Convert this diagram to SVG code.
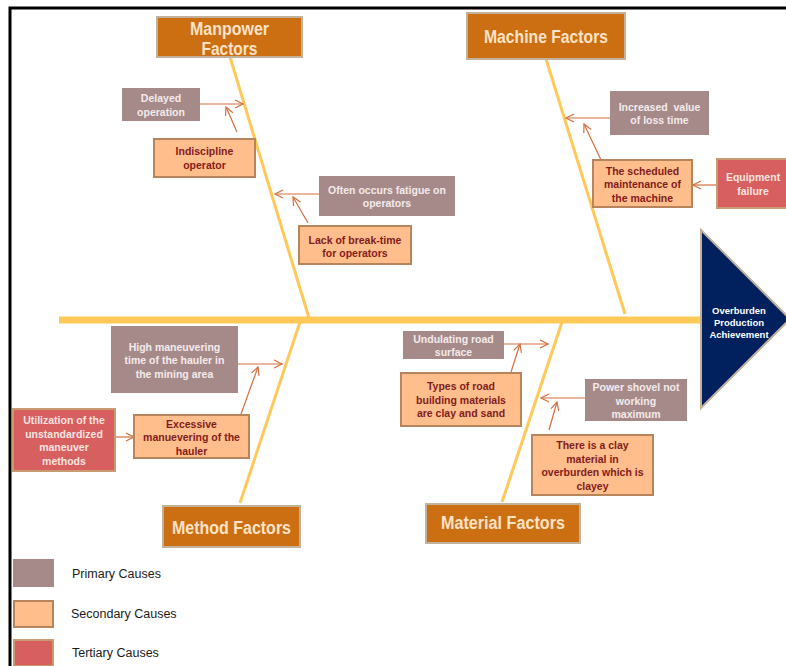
<svg xmlns="http://www.w3.org/2000/svg" width="786" height="666" viewBox="0 0 786 666">
<defs>
<marker id="ah" viewBox="0 0 10 10" refX="9" refY="5" markerWidth="10" markerHeight="10" markerUnits="userSpaceOnUse" orient="auto">
<path d="M1,1 L9,5 L1,9" fill="none" stroke="#D4703F" stroke-width="1.2"/>
</marker>
<style>
.bone{stroke:#FFC95A;stroke-width:3;fill:none}
.spine{stroke:#FFC95A;stroke-width:7;fill:none}
.arr{stroke:#D4703F;stroke-width:1.2;fill:none;marker-end:url(#ah)}
.fac rect{fill:#CC6F12;stroke:#C2B29C;stroke-width:2}
.fac text{font-family:"Liberation Sans",Arial,sans-serif;font-weight:bold;font-size:18px;fill:#FCE2C6;text-anchor:middle}
.pri rect{fill:#A68A8A}
.pri text{font-family:"Liberation Sans",Arial,sans-serif;font-weight:bold;font-size:10.5px;fill:#F4EAEA;text-anchor:middle}
.sec rect{fill:#FFBE8C;stroke:#B8845C;stroke-width:2}
.sec text{font-family:"Liberation Sans",Arial,sans-serif;font-weight:bold;font-size:10.5px;fill:#821C1C;text-anchor:middle}
.ter rect{fill:#D85F5F;stroke:#C99B70;stroke-width:2}
.ter text{font-family:"Liberation Sans",Arial,sans-serif;font-weight:bold;font-size:10.5px;fill:#FBE4E0;text-anchor:middle}
.leg{font-family:"Liberation Sans",Arial,sans-serif;font-size:12.5px;fill:#1A1A1A}
.head text{font-family:"Liberation Sans",Arial,sans-serif;font-weight:bold;font-size:9.5px;fill:#FFFFFF;text-anchor:middle}
</style>
</defs>
<rect x="0" y="0" width="786" height="666" fill="#FFFFFF"/>
<path d="M10,666 L10,8 L786,8" fill="none" stroke="#000000" stroke-width="3"/>

<g id="bones">
<line class="spine" x1="59" y1="320" x2="702" y2="320"/>
<line class="bone" x1="230" y1="57" x2="309" y2="318"/>
<line class="bone" x1="546" y1="59" x2="625" y2="314"/>
<line class="bone" x1="300" y1="322" x2="240" y2="503"/>
<line class="bone" x1="562" y1="322" x2="502" y2="502"/>
</g>

<g id="connectors">
<line class="arr" x1="198" y1="104" x2="243" y2="104"/>
<line class="arr" x1="237" y1="132" x2="226" y2="107"/>
<line class="arr" x1="319" y1="194" x2="275" y2="194"/>
<line class="arr" x1="308" y1="223" x2="293" y2="197"/>
<line class="arr" x1="610" y1="118" x2="566" y2="118"/>
<line class="arr" x1="601" y1="160" x2="584" y2="124"/>
<line class="arr" x1="717" y1="185" x2="693" y2="185"/>
<line class="arr" x1="238" y1="364" x2="282" y2="364"/>
<line class="arr" x1="241" y1="414" x2="258" y2="367"/>
<line class="arr" x1="115" y1="437" x2="134" y2="437"/>
<line class="arr" x1="504" y1="344" x2="548" y2="344"/>
<line class="arr" x1="511" y1="372" x2="520" y2="344"/>
<line class="arr" x1="585" y1="398" x2="541" y2="398"/>
<line class="arr" x1="549" y1="430" x2="557" y2="402"/>
</g>

<g id="head" class="head">
<path d="M701,230 L790,319 L701,408 Z" fill="#00205E" stroke="#C2B29C" stroke-width="2"/>
<text x="739" y="314">Overburden</text>
<text x="739" y="326">Production</text>
<text x="739" y="338">Achievement</text>
</g>

<g id="manpower" class="fac">
<rect x="157" y="17" width="145" height="40"/>
<text x="229.5" y="35" textLength="79" lengthAdjust="spacingAndGlyphs">Manpower</text>
<text x="229.5" y="55" textLength="56" lengthAdjust="spacingAndGlyphs">Factors</text>
</g>
<g id="machine" class="fac">
<rect x="467" y="13" width="158" height="46"/>
<text x="546" y="43" textLength="124" lengthAdjust="spacingAndGlyphs">Machine Factors</text>
</g>
<g id="method" class="fac">
<rect x="163" y="506" width="137" height="41"/>
<text x="231.5" y="534" textLength="119" lengthAdjust="spacingAndGlyphs">Method Factors</text>
</g>
<g id="material" class="fac">
<rect x="426" y="504" width="154" height="39"/>
<text x="503" y="529" textLength="124" lengthAdjust="spacingAndGlyphs">Material Factors</text>
</g>

<g id="delayed" class="pri">
<rect x="122" y="88" width="78" height="33"/>
<text x="161" y="102">Delayed</text>
<text x="161" y="116">operation</text>
</g>
<g id="indiscipline" class="sec">
<rect x="154" y="139" width="101" height="38"/>
<text x="204.5" y="155">Indiscipline</text>
<text x="204.5" y="169">operator</text>
</g>
<g id="fatigue" class="pri">
<rect x="319" y="176" width="136" height="40"/>
<text x="387" y="194">Often occurs fatigue on</text>
<text x="387" y="207">operators</text>
</g>
<g id="breaktime" class="sec">
<rect x="299" y="226" width="112" height="38"/>
<text x="355" y="244">Lack of break-time</text>
<text x="355" y="257">for operators</text>
</g>
<g id="losstime" class="pri">
<rect x="610" y="91" width="99" height="44"/>
<text x="659.5" y="111" style="white-space:pre">Increased  value</text>
<text x="659.5" y="124">of loss time</text>
</g>
<g id="maintenance" class="sec">
<rect x="593" y="160" width="99" height="47"/>
<text x="642.5" y="175">The scheduled</text>
<text x="642.5" y="188">maintenance of</text>
<text x="642.5" y="202">the machine</text>
</g>
<g id="equipment" class="ter">
<rect x="717" y="159" width="72" height="49"/>
<text x="753" y="181">Equipment</text>
<text x="753" y="195">failure</text>
</g>
<g id="highman" class="pri">
<rect x="111" y="326" width="127" height="67"/>
<text x="174.5" y="351">High maneuvering</text>
<text x="174.5" y="364">time of the hauler in</text>
<text x="174.5" y="378">the mining area</text>
</g>
<g id="excessive" class="sec">
<rect x="134" y="415" width="115" height="43"/>
<text x="191.5" y="428">Excessive</text>
<text x="191.5" y="441">manuevering of the</text>
<text x="191.5" y="455">hauler</text>
</g>
<g id="utilization" class="ter">
<rect x="13" y="409" width="102" height="62"/>
<text x="64" y="424">Utilization of the</text>
<text x="64" y="438">unstandardized</text>
<text x="64" y="451">maneuver</text>
<text x="64" y="465">methods</text>
</g>
<g id="undulating" class="pri">
<rect x="403" y="331" width="101" height="28"/>
<text x="453.5" y="343">Undulating road</text>
<text x="453.5" y="356">surface</text>
</g>
<g id="roadmat" class="sec">
<rect x="401" y="373" width="120" height="53"/>
<text x="461" y="390">Types of road</text>
<text x="461" y="404">building materials</text>
<text x="461" y="417">are clay and sand</text>
</g>
<g id="shovel" class="pri">
<rect x="585" y="379" width="102" height="42"/>
<text x="636" y="391">Power shovel not</text>
<text x="636" y="405">working</text>
<text x="636" y="418">maximum</text>
</g>
<g id="clay" class="sec">
<rect x="532" y="435" width="121" height="60"/>
<text x="592.5" y="449">There is a clay</text>
<text x="592.5" y="463">material in</text>
<text x="592.5" y="476">overburden which is</text>
<text x="592.5" y="490">clayey</text>
</g>

<g id="legend">
<rect x="13" y="559" width="41" height="28" fill="#A68A8A"/>
<text class="leg" x="72" y="578">Primary Causes</text>
<rect x="14" y="601" width="39" height="26" fill="#FFBE8C" stroke="#B8845C" stroke-width="2"/>
<text class="leg" x="71" y="618">Secondary Causes</text>
<rect x="14" y="640" width="39" height="26" fill="#D85F5F" stroke="#C99B70" stroke-width="2"/>
<text class="leg" x="72" y="657">Tertiary Causes</text>
</g>
</svg>
